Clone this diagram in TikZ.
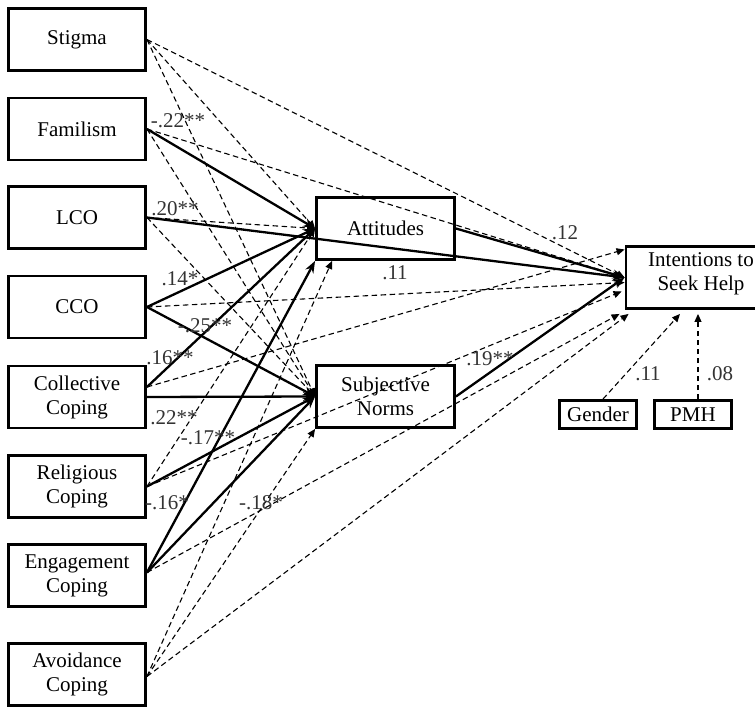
\documentclass[tikz,border=0pt]{standalone}
\usepackage{fontspec}
\setmainfont{Liberation Serif}
\usetikzlibrary{arrows.meta}
\begin{document}
\begin{tikzpicture}[x=1pt,y=-1pt,
  box/.style={draw,line width=2.9pt,minimum width=137pt,minimum height=62pt,
    font=\fontsize{21}{24}\selectfont,align=center,inner sep=0pt},
  smallbox/.style={draw,line width=2.9pt,minimum width=77pt,minimum height=28pt,
    font=\fontsize{21}{24}\selectfont,inner sep=0pt},
  sig/.style={line width=2.3pt,-{Stealth[length=12pt,width=9pt]}},
  ns/.style={line width=1.1pt,dash pattern=on 5.5pt off 3.5pt,-{Triangle[length=8pt,width=7pt]}},
  lab/.style={font=\fontsize{21}{24}\selectfont,text=black!80,inner sep=0pt}]
\useasboundingbox (0,0) rectangle (755,708);
% predictor boxes
\node[box] (stig) at (77,39.5) {Stigma};
\node[box] (fam)  at (77,129) {Familism};
\node[box] (lco)  at (77,217.5) {LCO};
\node[box] (cco)  at (77,307) {CCO};
\node[box] (coll) at (77,397) {Collective\\Coping};
\node[box] (rel)  at (77,486.5) {Religious\\Coping};
\node[box] (eng)  at (77,575.5) {Engagement\\Coping};
\node[box] (avo)  at (77,674.5) {Avoidance\\Coping};
% mediators
\node[box,minimum width=138pt] (att) at (385.5,228.5) {Attitudes};
\node[box,minimum width=138pt] (sn)  at (385.5,396.5) {Subjective\\Norms};
% outcome
\node[draw,line width=2.9pt,minimum width=131pt,minimum height=62pt,inner sep=0pt] (int) at (691.5,277.5) {};
\node[font=\fontsize{21}{24}\selectfont,align=center,inner sep=0pt] (inttxt) at (701,273.5) {Intentions to\\Seek Help};
% covariates
\node[smallbox] (gen) at (598,414.5) {Gender};
\node[smallbox] (pmh) at (693,414.5) {PMH};
% ports
\coordinate (collup) at ([yshift=10pt]coll.east);
\coordinate (engp) at ([yshift=3pt]eng.east);
\coordinate (avop) at ([yshift=-2pt]avo.east);
\coordinate (attb) at ([xshift=17pt]att.south west);
\coordinate (intA) at ([yshift=28pt]int.west);
\coordinate (intC) at ([yshift=-5pt]int.west);
\coordinate (intR) at ([yshift=-14pt,xshift=-3pt]int.west);
\coordinate (intE) at ([xshift=-5pt,yshift=-4pt]int.south west);
\coordinate (intV) at ([xshift=4pt,yshift=-4pt]int.south west);
\coordinate (intG) at ([xshift=-11.5pt,yshift=-4pt]int.south);
\coordinate (intP) at ([xshift=6.5pt,yshift=-4pt]int.south);
\coordinate (genp) at ([xshift=5pt]gen.north);
\coordinate (pmhp) at ([xshift=5pt]pmh.north);
% non-significant paths
\draw[ns] (stig.east) -- (att.west);
\draw[ns] (stig.east) -- (sn.west);
\draw[ns] (stig.east) -- (int.west);
\draw[ns] (fam.east) -- (sn.west);
\draw[ns] (fam.east) -- (int.west);
\draw[ns] (lco.east) -- (att.west);
\draw[ns] (lco.east) -- (sn.west);
\draw[ns] (cco.east) -- (intC);
\draw[ns] (collup) -- (intA);
\draw[ns] (rel.east) -- (att.west);
\draw[ns] (rel.east) -- (intR);
\draw[ns] (engp) -- (intE);
\draw[ns] (avop) -- (attb);
\draw[ns] (avop) -- (sn.south west);
\draw[ns] (avop) -- (intV);
\draw[ns] (genp) -- (intG);
\draw[ns] (pmhp) -- (intP);
% significant paths
\draw[sig] (fam.east) -- (att.west);
\draw[sig] (lco.east) -- (int.west);
\draw[sig] (cco.east) -- (att.west);
\draw[sig] (cco.east) -- (sn.west);
\draw[sig] (collup) -- (att.west);
\draw[sig] (coll.east) -- (sn.west);
\draw[sig] (rel.east) -- (sn.west);
\draw[sig] (engp) -- (att.south west);
\draw[sig] (engp) -- (sn.west);
\draw[sig] (att.east) -- (int.west);
\draw[sig] (sn.east) -- (int.west);
% coefficients
\node[lab] (l1) at (178,121) {-.22**};
\node[lab] (l2) at (175,209) {.20**};
\node[lab] (l3) at (180,279) {.14*};
\node[lab] (l4) at (205,326) {-.25**};
\node[lab] (l5) at (170,358) {.16**};
\node[lab] (l6) at (174,418) {.22**};
\node[lab] (l7) at (208,438) {-.17**};
\node[lab] (l8) at (167,503) {-.16*};
\node[lab] (l9) at (261,503) {-.18*};
\node[lab] (l10) at (565,233) {.12};
\node[lab] (l11) at (395,273) {.11};
\node[lab] (l12) at (490,359) {.19**};
\node[lab] (l13) at (648,374) {.11};
\node[lab] (l14) at (720,374) {.08};
\end{tikzpicture}
\end{document}
